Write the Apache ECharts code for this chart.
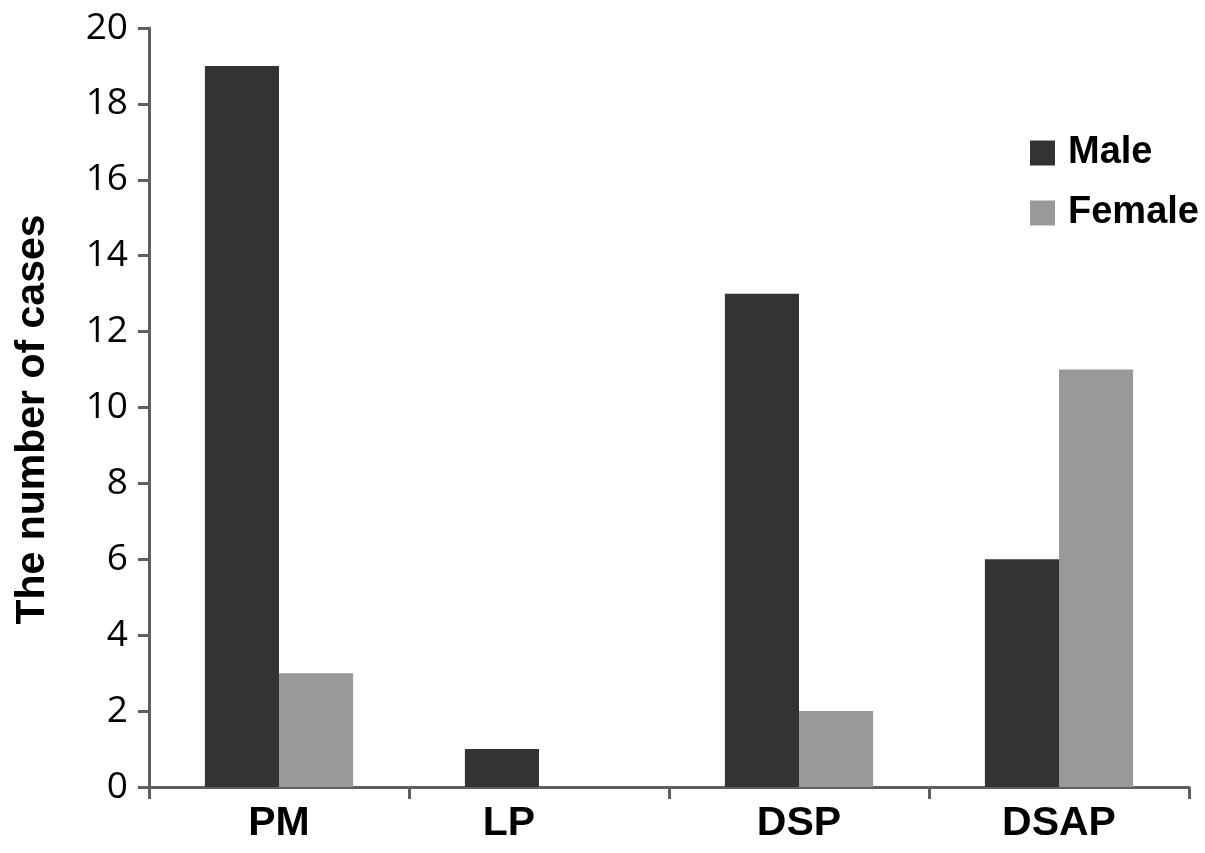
<!DOCTYPE html>
<html>
<head>
<meta charset="utf-8">
<title>The number of cases</title>
<script src="https://cdn.jsdelivr.net/npm/echarts@6/dist/echarts.min.js"></script>
<style>
  html, body { margin: 0; padding: 0; background: #fff; }
  #chart { width: 1205px; height: 853px; }
</style>
</head>
<body>
<div id="chart"></div>
<script>
// data
const categories = ['PM', 'LP', 'DSP', 'DSAP'];
const maleCases = [19, 1, 13, 6];
const femaleCases = [3, 0, 2, 11];
const yTicks = [0, 20, 2]; // min, max, step

const axisGrey = '#5f5f5f';
const boldFont = '"Liberation Sans", Arial, sans-serif';

const chart = echarts.init(document.getElementById('chart'));

const option = {
  backgroundColor: '#ffffff',
  animation: false,
  grid: {left: 149, right: 16, top: 28, bottom: 66},
  legend: {
    orient: 'vertical',
    left: 1030,
    top: 134,
    padding: 0,
    itemWidth: 25,
    itemHeight: 25,
    itemGap: 22,
    icon: 'rect',
    textStyle: {color: '#000', fontSize: 38, fontWeight: 'bold', fontFamily: boldFont, padding: [0, 0, 0, 8]},
    data: ['Male', 'Female']
  },
  xAxis: {
    type: 'category',
    data: categories,
    axisLine: {lineStyle: {color: axisGrey, width: 3}},
    axisTick: {show: true, length: 12, lineStyle: {color: axisGrey, width: 3}},
    axisLabel: {
      color: '#000',
      fontSize: 41,
      fontWeight: 'bold',
      fontFamily: boldFont,
      margin: 16,
      // LP sits a little left of its slot in the original
      formatter: (v) => v === 'LP' ? '{lp|' + v + '}' : v,
      rich: {
        lp: {fontSize: 41, fontWeight: 'bold', fontFamily: boldFont, color: '#000', padding: [0, 60, 0, 0]}
      }
    }
  },
  yAxis: {
    type: 'value',
    min: yTicks[0],
    max: yTicks[1],
    interval: yTicks[2],
    name: 'The number of cases',
    nameLocation: 'middle',
    nameGap: 96,
    nameTextStyle: {color: '#000', fontSize: 41, fontWeight: 'bold', fontFamily: boldFont, padding: [0, 24, 0, 0]},
    axisLine: {show: true, lineStyle: {color: axisGrey, width: 3}},
    axisTick: {show: true, length: 11, lineStyle: {color: axisGrey, width: 3}},
    axisLabel: {color: '#000', fontSize: 37, fontFamily: '"Open Sans", sans-serif', margin: 21},
    splitLine: {show: false}
  },
  series: [
    {
      name: 'Male',
      type: 'bar',
      barGap: '0%',
      barCategoryGap: '43%',
      itemStyle: {color: '#333333'},
      data: maleCases
    },
    {
      name: 'Female',
      type: 'bar',
      barGap: '0%',
      barCategoryGap: '43%',
      itemStyle: {color: '#999999'},
      data: femaleCases
    }
  ]
};

chart.setOption(option);
</script>
</body>
</html>
